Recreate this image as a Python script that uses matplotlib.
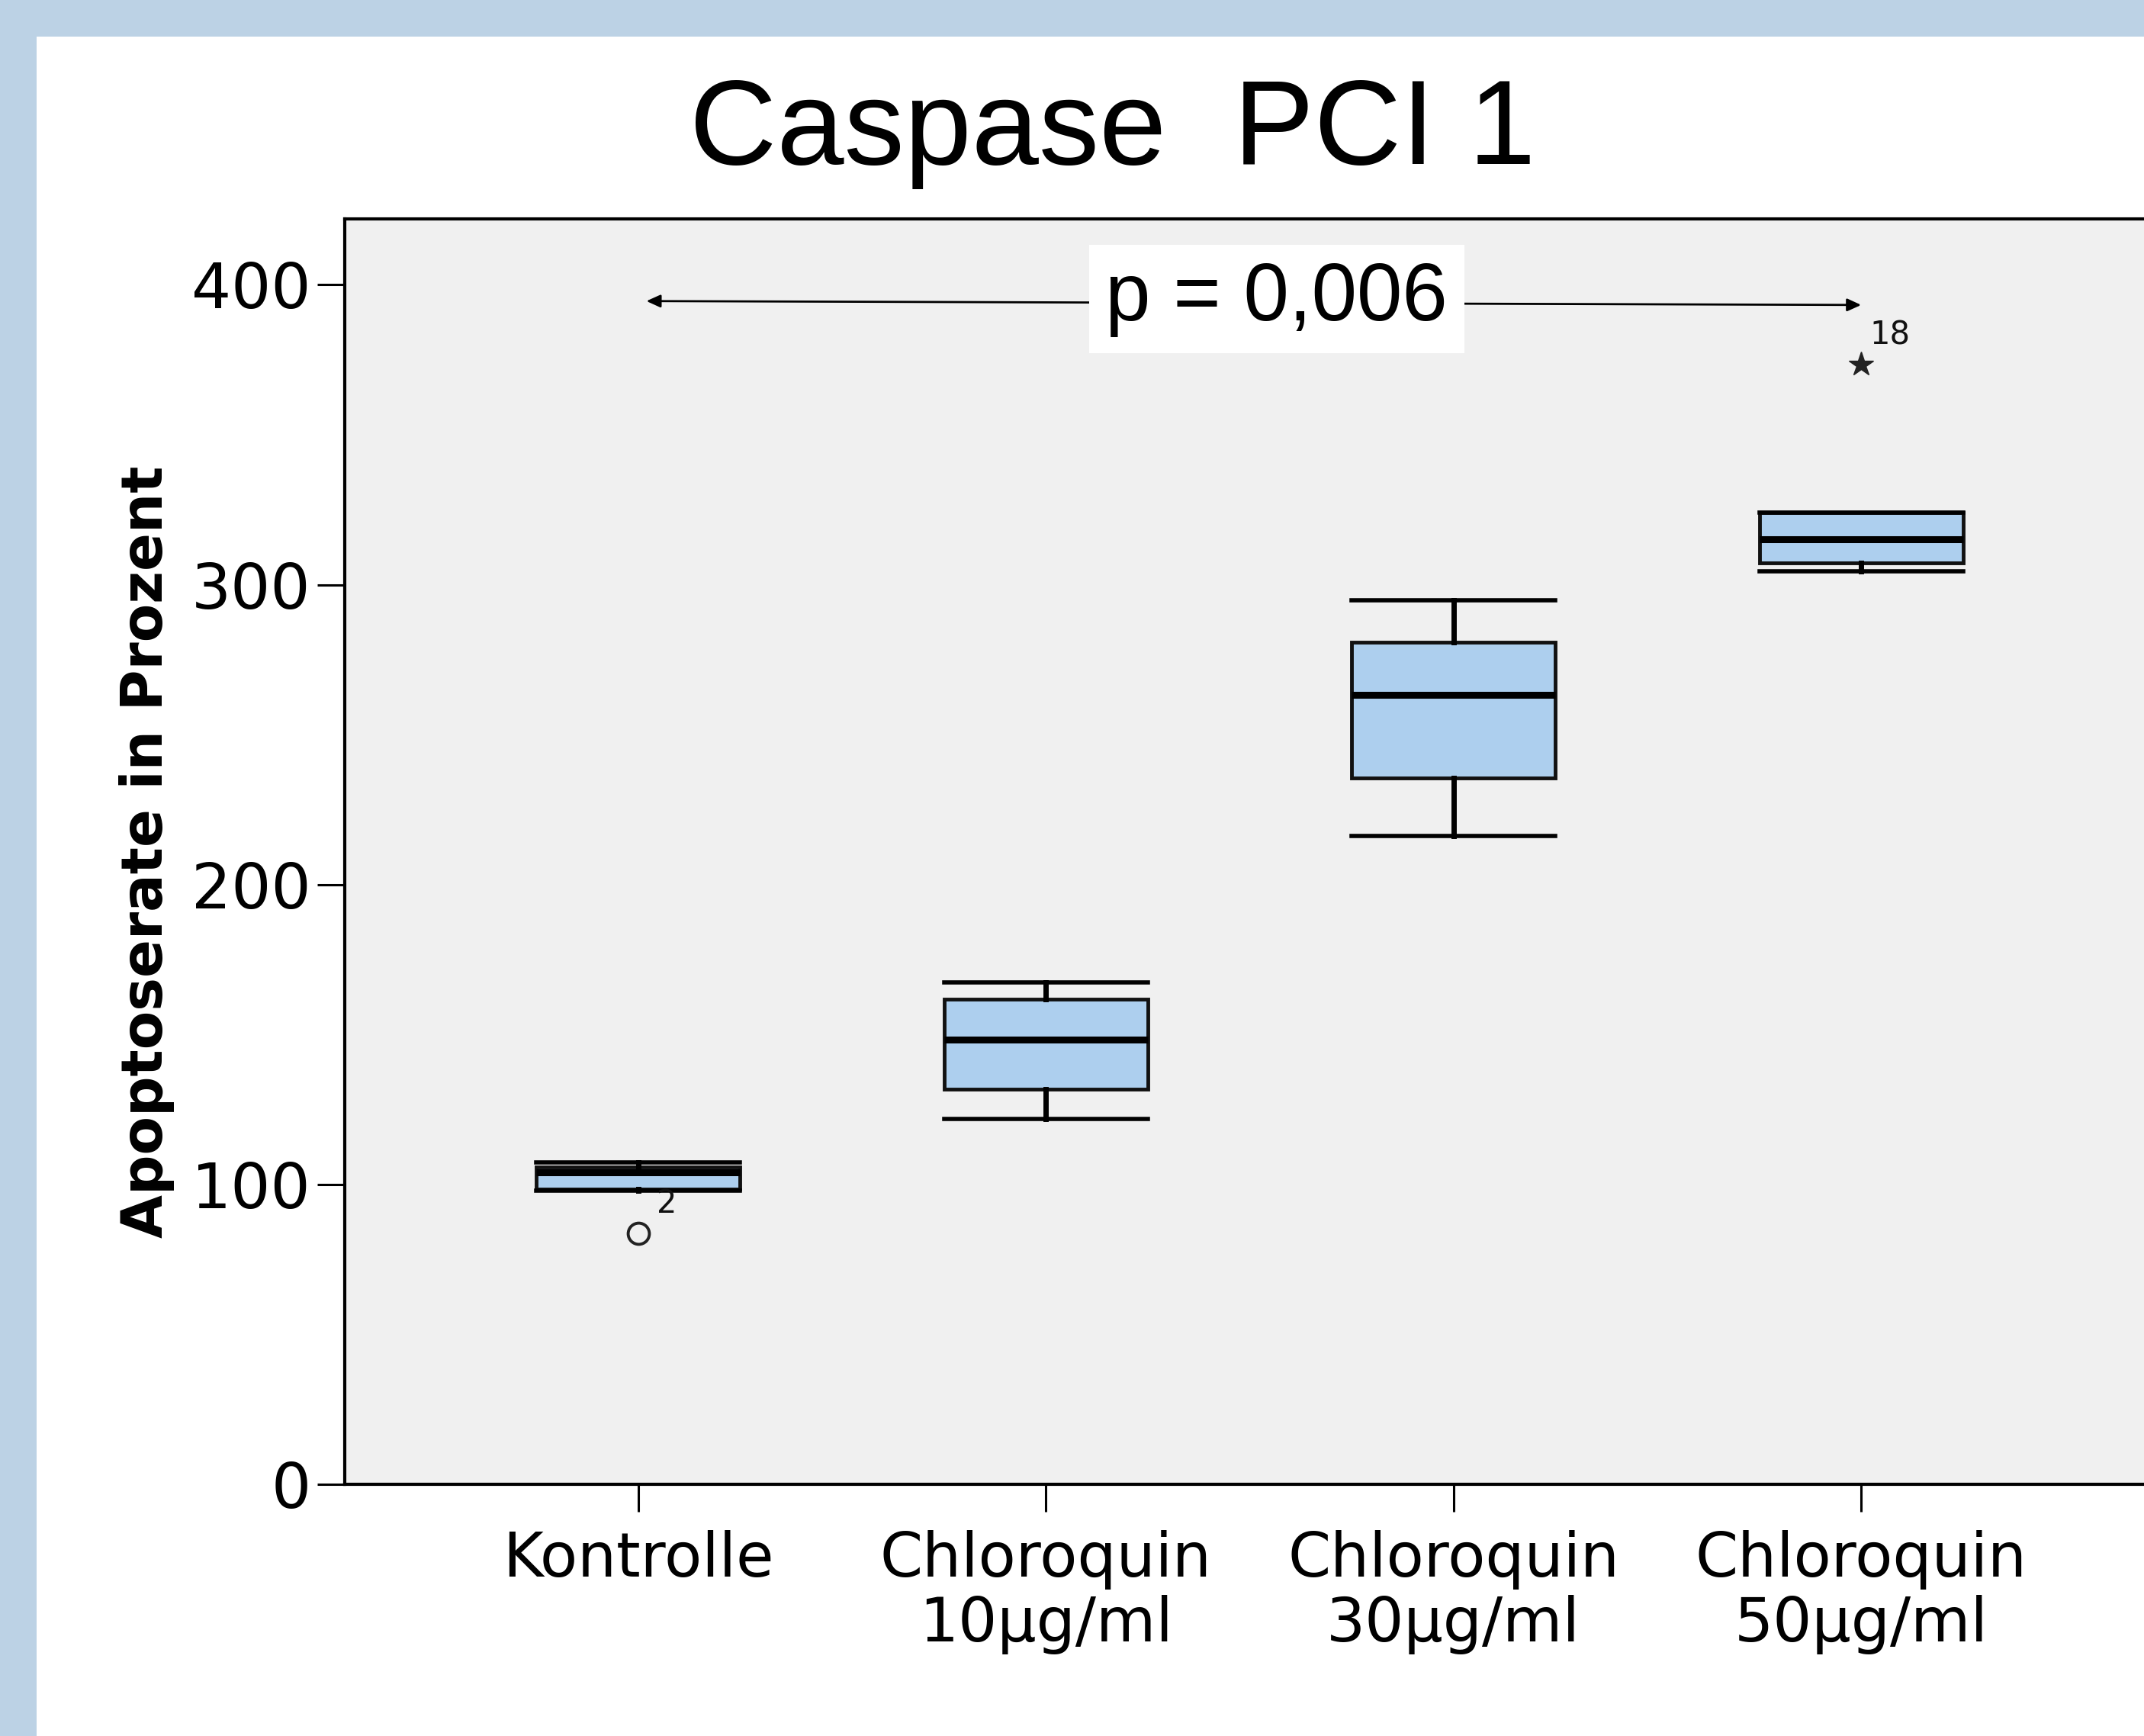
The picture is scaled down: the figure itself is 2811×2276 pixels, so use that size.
import matplotlib
matplotlib.use("Agg")
import matplotlib.pyplot as plt
from matplotlib.patches import Rectangle

# ---- data ----
categories = ["Kontrolle", "Chloroquin\n10µg/ml", "Chloroquin\n30µg/ml", "Chloroquin\n50µg/ml"]
whislo = [98.0, 121.8, 216.1, 304.6]
q1 = [98.4, 131.7, 235.5, 307.2]
med = [104.0, 148.2, 263.2, 315.1]
q3 = [105.8, 161.7, 280.7, 324.0]
whishi = [107.4, 167.3, 294.7, 324.0]
outlier_vals = [83.7, 373.3]
outlier_group = [0, 3]
outlier_ids = ["2", "18"]
outlier_markers = ["o", "*"]
yticks = [0, 100, 200, 300, 400]
title = "Caspase  PCI 1"
ylabel = "Apoptoserate in Prozent"
p_text = "p = 0,006"
p_level = [394.6, 393.3]

W, H = 2811, 2276
fig = plt.figure(figsize=(W / 100, H / 100), dpi=100)
fig.patch.set_facecolor("white")
# light blue frame on top and left
fig.patches.append(Rectangle((0, 1 - 48 / H), 1, 48 / H, transform=fig.transFigure,
                             facecolor="#BCD2E5", edgecolor="none", zorder=-10))
fig.patches.append(Rectangle((0, 0), 48 / W, 1, transform=fig.transFigure,
                             facecolor="#BCD2E5", edgecolor="none", zorder=-10))

ax_left = 452 / W
ax_bottom = 1 - 1946 / H
ax_top = 1 - 287 / H
ax = fig.add_axes([ax_left, ax_bottom, 2825 / W - ax_left, ax_top - ax_bottom])
ax.set_facecolor("#F0F0F0")

positions = list(range(1, len(categories) + 1))
stats = []
for i in range(len(categories)):
    stats.append(dict(whislo=whislo[i], q1=q1[i], med=med[i], q3=q3[i],
                      whishi=whishi[i], fliers=[]))

ax.bxp(stats, positions=positions, widths=0.5, capwidths=0.5,
       patch_artist=True, showfliers=False,
       boxprops=dict(facecolor="#ADCFEE", edgecolor="#111111", linewidth=3.5),
       medianprops=dict(color="black", linewidth=6.5),
       whiskerprops=dict(color="black", linewidth=5),
       capprops=dict(color="black", linewidth=4))

for val, g, lab, mk in zip(outlier_vals, outlier_group, outlier_ids, outlier_markers):
    x = positions[g]
    if mk == "o":
        ax.plot([x], [val], marker="o", markersize=20, markerfacecolor="none",
                markeredgecolor="#222222", markeredgewidth=2.8, linestyle="none")
    else:
        ax.plot([x], [val], marker="*", markersize=24, markerfacecolor="#222222",
                markeredgecolor="#222222", linestyle="none")
    ax.text(x + 0.07, val + 10, lab, fontsize=30, ha="center", va="center",
            family="DejaVu Sans", color="#111111")

# p-value annotation
ax.annotate("", xy=(positions[-1], p_level[1]), xytext=(positions[0] + 0.02, p_level[0]),
            arrowprops=dict(arrowstyle="<|-|>,head_length=0.55,head_width=0.25",
                            mutation_scale=20, color="black", lw=2, shrinkA=0, shrinkB=0))
ax.text(2.566, 395.3, p_text, fontsize=77, family="Liberation Sans",
        ha="center", va="center",
        bbox=dict(boxstyle="square,pad=0.2", facecolor="white", edgecolor="none"))

ax.set_xlim(0.28, 4.72)
ax.set_ylim(0, 422)
ax.set_xticks(positions)
ax.set_xticklabels(categories, fontsize=58, family="DejaVu Sans", linespacing=1.12)
ax.set_yticks(yticks)
ax.set_yticklabels([str(t) for t in yticks], fontsize=59, family="DejaVu Sans")
ax.tick_params(axis="both", direction="out", length=26, width=2.2, color="black")
ax.tick_params(axis="y", pad=6)
ax.tick_params(axis="x", pad=17)

for s in ["left", "top", "bottom"]:
    ax.spines[s].set_color("black")
    ax.spines[s].set_linewidth(3)
ax.spines["right"].set_visible(False)

ax.set_ylabel(ylabel, fontsize=53, fontweight="bold", family="DejaVu Sans")
ax.yaxis.set_label_coords(-0.094, 0.5)

fig.text(1459 / W, 1 - 215 / H, title, fontsize=114, family="Liberation Sans",
         ha="center", va="baseline")

fig.savefig("out.png", dpi=100, facecolor=fig.get_facecolor())
